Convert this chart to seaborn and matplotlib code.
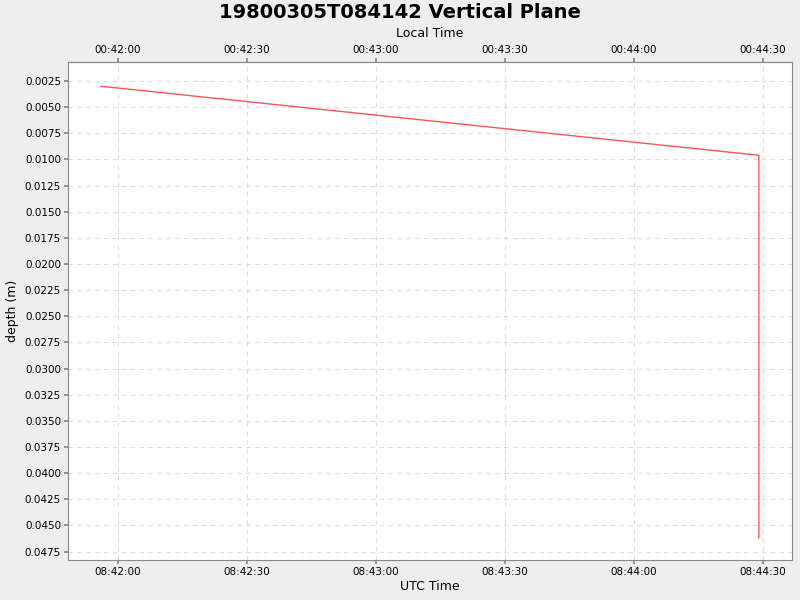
import matplotlib
matplotlib.use("Agg")
import matplotlib.pyplot as plt
import seaborn as sns
import pandas as pd

# seconds after 08:42:00 UTC, depth in metres
time_s = [-4.0, 149.0, 149.0]
depth_m = [0.0030, 0.0096, 0.0462]

tick_s = [0, 30, 60, 90, 120, 150]
utc_labels = ["08:42:00", "08:42:30", "08:43:00", "08:43:30", "08:44:00", "08:44:30"]
local_labels = ["00:42:00", "00:42:30", "00:43:00", "00:43:30", "00:44:00", "00:44:30"]
depth_ticks = [0.0025 * i for i in range(1, 20)]

sns.set_theme(style="white")
plt.rcParams["font.family"] = ["DejaVu Sans"]
plt.rcParams["text.color"] = "black"
plt.rcParams["axes.labelcolor"] = "black"
plt.rcParams["xtick.color"] = "black"
plt.rcParams["ytick.color"] = "black"

fig = plt.figure(figsize=(8, 6), dpi=100, facecolor="#eeeeee")
ax = fig.add_axes([68 / 800, 1 - 560 / 600, 724 / 800, 498 / 600])
ax.set_facecolor("white")

df = pd.DataFrame({"t": time_s, "depth": depth_m})
sns.lineplot(data=df, x="t", y="depth", sort=False, estimator=None,
             color="#ff5555", lw=1, ax=ax)

ax.set_xlim(-11.6, 156.7)
ax.set_ylim(0.0483, 0.00068)
ax.set_xticks(tick_s)
ax.set_xticklabels(utc_labels, fontsize=7.5)
ax.set_yticks(depth_ticks)
ax.set_yticklabels([f"{v:.4f}" for v in depth_ticks], fontsize=7.5)
ax.grid(True, color="#dddddd", ls=(0, (4, 4)), lw=0.8)
ax.tick_params(length=3, color="#888888", bottom=True, left=True, pad=2)
ax.set_xlabel("UTC Time", fontsize=9, labelpad=2)
ax.set_ylabel("depth (m)", fontsize=9, labelpad=4)
for s in ax.spines.values():
    s.set_color("#888888")
    s.set_linewidth(0.8)

top = ax.secondary_xaxis("top")
top.set_xticks(tick_s)
top.set_xticklabels(local_labels, fontsize=7.5)
top.tick_params(length=3, color="#888888", pad=2)
top.set_xlabel("Local Time", fontsize=9, labelpad=6)
top.spines["top"].set_color("#888888")
top.spines["top"].set_linewidth(0.8)

fig.text(0.5, 0.995, "19800305T084142 Vertical Plane", ha="center", va="top",
         fontsize=14, fontweight="bold")

fig.savefig("out.png", dpi=100, facecolor=fig.get_facecolor())
